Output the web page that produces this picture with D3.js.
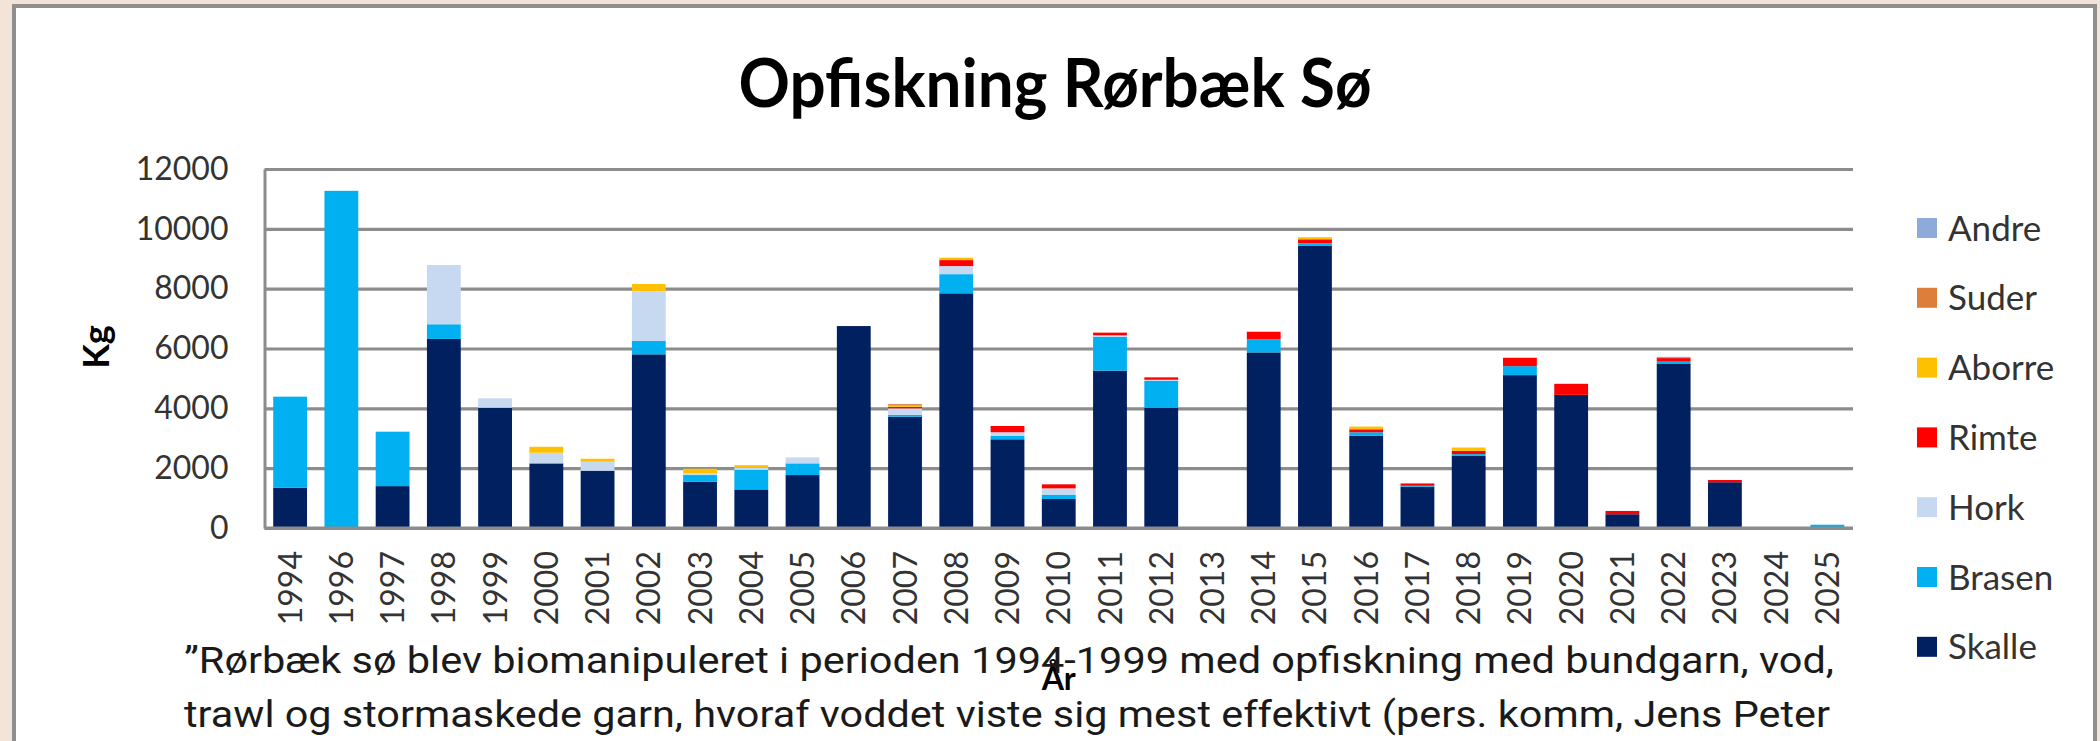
<!DOCTYPE html>
<html>
<head>
<meta charset="utf-8">
<script src="https://cdn.jsdelivr.net/npm/d3@7"></script>
<style>
  html, body { margin: 0; padding: 0; background: #f2e4d9; }
  svg { display: block; }
</style>
</head>
<body>
<svg id="chart" width="2100" height="741"></svg>
<script>
// Catch per year (kg) for each species
const years  = ["1994","1996","1997","1998","1999","2000","2001","2002","2003","2004","2005","2006","2007","2008","2009","2010","2011","2012","2013","2014","2015","2016","2017","2018","2019","2020","2021","2022","2023","2024","2025"];
const skalle = [1350, 0, 1400, 6320, 4020, 2160, 1915, 5805, 1550, 1290, 1770, 6750, 3720, 7845, 2965, 970, 5260, 4020, 0, 5870, 9430, 3080, 1380, 2410, 5110, 4450, 460, 5500, 1530, 0, 0];
const brasen = [3040, 11270, 1820, 490, 0, 0, 0, 445, 220, 650, 390, 0, 60, 640, 110, 145, 1135, 905, 0, 435, 90, 120, 30, 60, 300, 0, 0, 60, 0, 0, 110];
const hork   = [0, 0, 0, 1980, 315, 355, 300, 1670, 60, 70, 200, 0, 220, 270, 125, 210, 45, 30, 0, 0, 0, 0, 0, 0, 0, 0, 0, 0, 0, 0, 0];
const rimte  = [0, 0, 0, 0, 0, 0, 0, 0, 0, 0, 0, 0, 50, 200, 210, 135, 90, 80, 0, 255, 130, 100, 80, 110, 280, 370, 110, 120, 75, 0, 0];
const aborre = [0, 0, 0, 0, 0, 200, 100, 235, 150, 90, 0, 0, 40, 80, 0, 0, 0, 0, 0, 0, 70, 90, 0, 110, 0, 0, 0, 0, 0, 0, 0];
const suder  = [0, 0, 0, 0, 0, 0, 0, 0, 0, 0, 0, 0, 50, 0, 0, 0, 0, 0, 0, 0, 0, 0, 0, 0, 0, 0, 0, 0, 0, 0, 0];
const andre  = [0, 0, 0, 0, 0, 0, 0, 0, 0, 0, 0, 0, 0, 0, 0, 0, 0, 0, 0, 0, 0, 0, 0, 0, 0, 0, 0, 40, 0, 0, 0];

const speciesNames = ["Skalle", "Brasen", "Hork", "Rimte", "Aborre", "Suder", "Andre"];
const speciesValues = [skalle, brasen, hork, rimte, aborre, suder, andre];
const speciesColors = ["#002060", "#00b0f0", "#c6d9f1", "#ff0000", "#ffc000", "#dd7f3b", "#8eaadb"];
const yTicks = [0, 2000, 4000, 6000, 8000, 10000, 12000];

const titleText = "Opfiskning Rørbæk Sø";
const captionLines = [
  "”Rørbæk sø blev biomanipuleret i perioden 1994-1999 med opfiskning med bundgarn, vod,",
  "trawl og stormaskede garn, hvoraf voddet viste sig mest effektivt (pers. komm, Jens Peter"
];

// Build rows for the stack layout
const rows = years.map((yr, i) => {
  const r = { year: yr };
  speciesNames.forEach((s, k) => { r[s] = speciesValues[k][i]; });
  return r;
});

const svg = d3.select("#chart");
const W = 2100, H = 741;

// Page background and white card
svg.append("rect").attr("width", W).attr("height", H).attr("fill", "#f2e4d9");
svg.append("rect")
  .attr("x", 14).attr("y", 6).attr("width", 2081).attr("height", 800)
  .attr("fill", "#ffffff").attr("stroke", "#8f8f8f").attr("stroke-width", 4);

const plot = { left: 264.5, right: 1853, top: 169, bottom: 528 };

const x = d3.scaleBand().domain(years).range([plot.left, plot.right])
  .paddingInner(0.34).paddingOuter(0.17);
const y = d3.scaleLinear().domain([0, 12000]).range([plot.bottom, plot.top]);

const font = "Lato, 'Open Sans', sans-serif";

// Y axis with gridlines
const yAxis = svg.append("g")
  .attr("transform", `translate(${plot.left},0)`)
  .call(d3.axisLeft(y).tickValues(yTicks).tickFormat(d3.format("d"))
    .tickSize(-(plot.right - plot.left)).tickSizeOuter(0).tickPadding(36));
yAxis.select(".domain").attr("stroke", "#8c8c8c").attr("stroke-width", 3);
yAxis.selectAll(".tick line").attr("stroke", "#8c8c8c").attr("stroke-width", 3.2);
yAxis.selectAll(".tick text")
  .attr("font-family", font).attr("font-size", 32).attr("fill", "#333");

// Stacked bars
const stack = d3.stack().keys(speciesNames);
const series = stack(rows);
svg.append("g").selectAll("g")
  .data(series)
  .join("g")
  .attr("fill", (d, i) => speciesColors[i])
  .selectAll("rect")
  .data(d => d.filter(p => p[1] - p[0] > 0))
  .join("rect")
  .attr("x", d => x(d.data.year))
  .attr("width", x.bandwidth())
  .attr("y", d => y(d[1]))
  .attr("height", d => y(d[0]) - y(d[1]));

// Baseline drawn over bars
svg.append("line")
  .attr("x1", plot.left).attr("x2", plot.right)
  .attr("y1", y(0)).attr("y2", y(0))
  .attr("stroke", "#8c8c8c").attr("stroke-width", 3.2);

// X axis year labels, rotated
const xAxis = svg.append("g")
  .attr("transform", `translate(0,${plot.bottom})`)
  .call(d3.axisBottom(x).tickSize(0));
xAxis.select(".domain").remove();
xAxis.selectAll(".tick text")
  .attr("font-family", font).attr("font-size", 32).attr("fill", "#333")
  .attr("transform", "rotate(-90)")
  .attr("text-anchor", "end")
  .attr("x", -23).attr("y", 0).attr("dy", "0.36em");

// Title
svg.append("text")
  .attr("x", 1055).attr("y", 107)
  .attr("text-anchor", "middle")
  .attr("font-family", font).attr("font-weight", 700).attr("font-size", 66)
  .attr("fill", "#000")
  .attr("textLength", 633).attr("lengthAdjust", "spacingAndGlyphs")
  .text(titleText);

// Axis titles
svg.append("text")
  .attr("transform", "translate(109,347) rotate(-90)")
  .attr("text-anchor", "middle")
  .attr("font-family", font).attr("font-weight", 700).attr("font-size", 36)
  .attr("fill", "#000")
  .text("Kg");

svg.append("text")
  .attr("x", (plot.left + plot.right) / 2).attr("y", 690)
  .attr("text-anchor", "middle")
  .attr("font-family", font).attr("font-weight", 700).attr("font-size", 32)
  .attr("fill", "#000")
  .text("År");

// Legend (top entry is the top of the stack)
const legend = svg.append("g");
const legendOrder = speciesNames.map((n, i) => i).reverse();
legendOrder.forEach((k, j) => {
  const cy = 228 + j * 69.8;
  legend.append("rect")
    .attr("x", 1917).attr("y", cy - 10).attr("width", 20).attr("height", 20)
    .attr("fill", speciesColors[k]);
  legend.append("text")
    .attr("x", 1948).attr("y", cy).attr("dy", "0.36em")
    .attr("font-family", font).attr("font-size", 35).attr("fill", "#333")
    .text(speciesNames[k]);
});

// Caption text below the chart
const capWidths = [1650, 1646];
captionLines.forEach((line, i) => {
  svg.append("text")
    .attr("x", 184).attr("y", 673 + i * 54)
    .attr("font-family", "Roboto, 'Open Sans', sans-serif").attr("font-size", 36)
    .attr("fill", "#1a1a1a")
    .attr("textLength", capWidths[i]).attr("lengthAdjust", "spacingAndGlyphs")
    .text(line);
});
</script>
</body>
</html>
